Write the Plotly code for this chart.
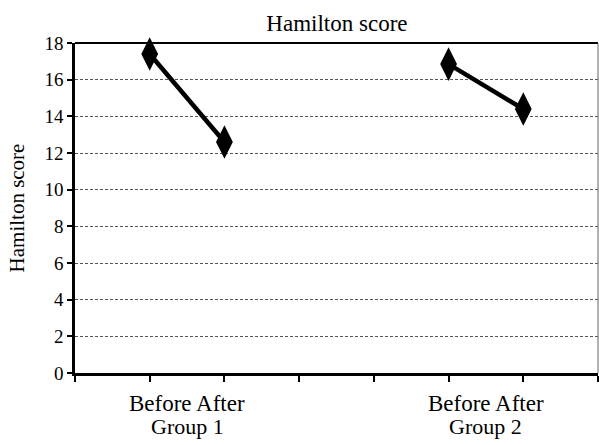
import plotly.graph_objects as go

# ---- data ----
conditions = ["Before", "After"]
groups = ["Group 1", "Group 2"]
group1_scores = [17.4, 12.6]
group2_scores = [16.85, 14.4]
group_positions = [[1, 2], [5, 6]]   # category slots on the x axis
y_ticks = [0, 2, 4, 6, 8, 10, 12, 14, 16, 18]

FONT = "Liberation Serif"

fig = go.Figure()
for pos, vals, name in zip(group_positions, [group1_scores, group2_scores], groups):
    fig.add_trace(go.Scatter(
        x=pos, y=vals, mode="lines+markers", name=name,
        line=dict(color="black", width=4.5),
        marker=dict(symbol="diamond-tall", size=24, color="black"),
        showlegend=False, cliponaxis=False,
    ))

annotations = []
for pos, g in zip(group_positions, groups):
    center = sum(pos) / 2
    annotations.append(dict(x=center, y=0, xref="x", yref="y", text=" ".join(conditions),
                            showarrow=False, yshift=-30,
                            font=dict(family=FONT, size=23, color="black")))
    annotations.append(dict(x=center, y=0, xref="x", yref="y", text=g, showarrow=False,
                            yshift=-53, font=dict(family=FONT, size=22, color="black")))

fig.update_layout(
    width=599, height=445,
    margin=dict(l=75, r=1, t=43, b=72),
    paper_bgcolor="white", plot_bgcolor="white",
    title=dict(text="Hamilton score", x=0.5625, xanchor="center", y=0.948, yanchor="middle",
               font=dict(family=FONT, size=23, color="black")),
    font=dict(family=FONT, color="black"),
    xaxis=dict(range=[0, 7], tickvals=list(range(8)), ticktext=[""] * 8,
               showgrid=False, zeroline=False, showline=True, linecolor="black", linewidth=2.5,
               ticks="outside", ticklen=6, tickwidth=2, tickcolor="black"),
    yaxis=dict(range=[0, 18], tickvals=y_ticks, showgrid=True, gridcolor="#555555",
               griddash="3px,2px", gridwidth=1, zeroline=False, showline=True,
               linecolor="black", linewidth=2.5, ticks="outside", ticklen=5, tickwidth=2,
               tickcolor="black", tickfont=dict(family=FONT, size=19, color="black"),
               title=dict(text="Hamilton score", font=dict(family=FONT, size=21, color="black"),
                          standoff=15)),
    annotations=annotations,
    shapes=[
        dict(type="line", xref="paper", yref="paper", x0=0, x1=1, y0=1, y1=1,
             line=dict(color="black", width=2)),
        dict(type="line", xref="paper", yref="paper", x0=1, x1=1, y0=0, y1=1,
             line=dict(color="#666666", width=1)),
    ],
)

fig.write_html("out.html", config={"displayModeBar": False},
               post_script="document.body.style.margin='0';")
